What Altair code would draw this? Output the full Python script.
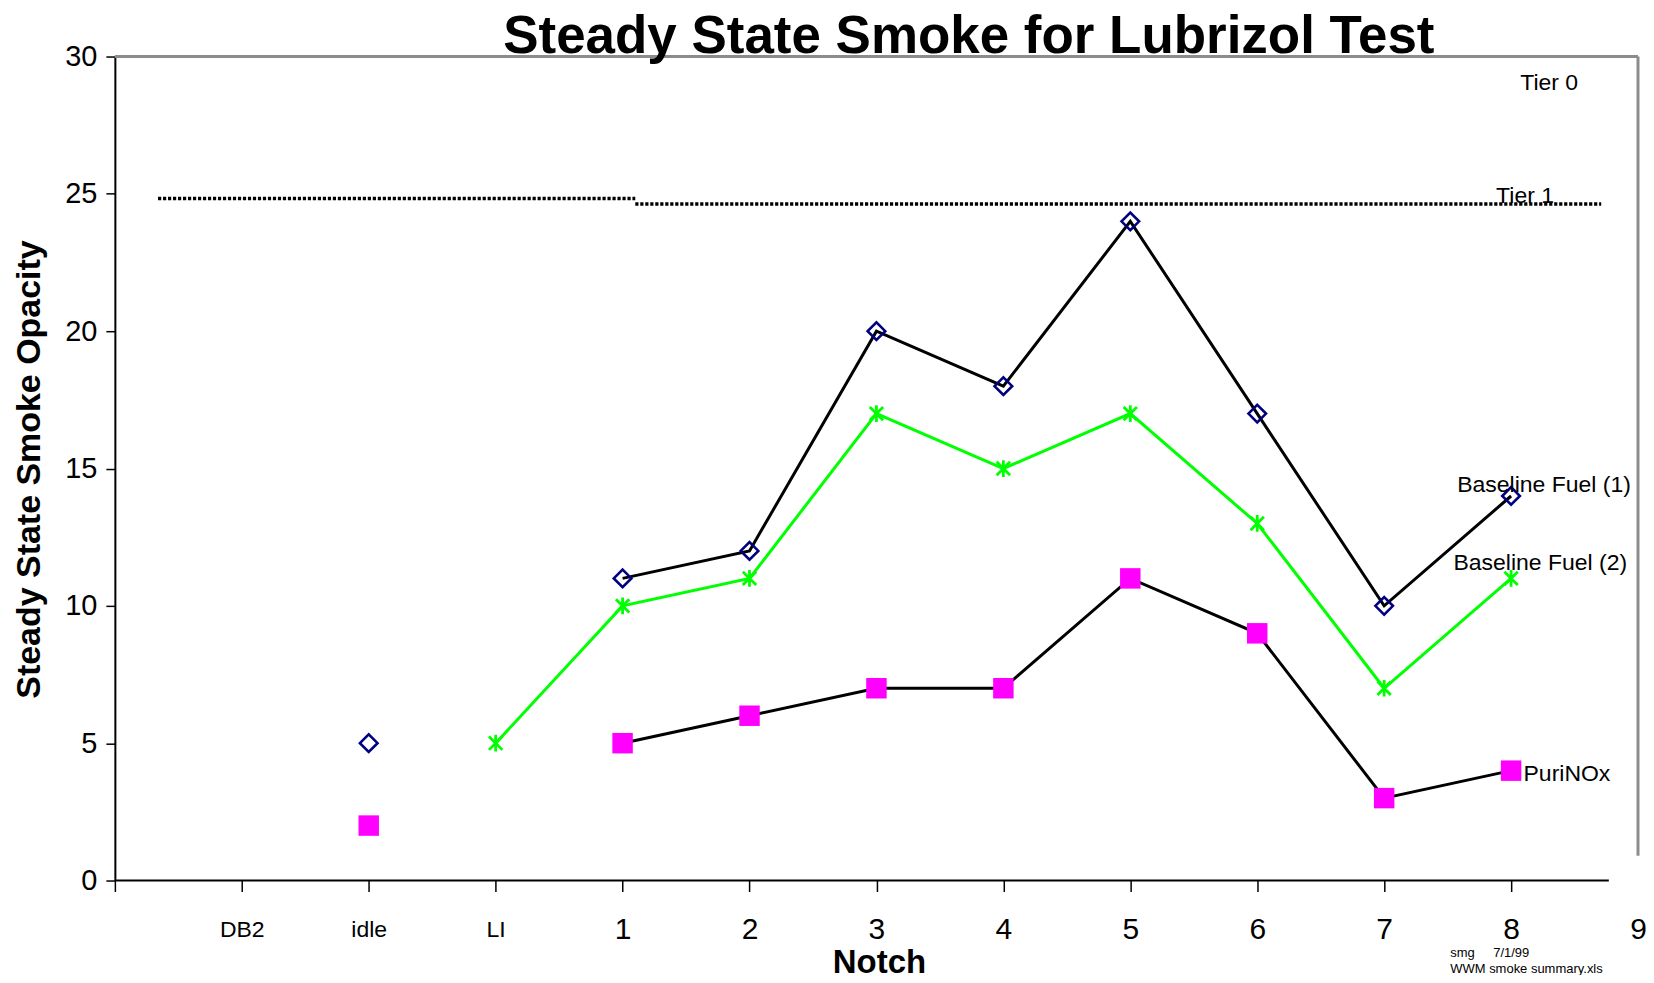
import json
import altair as alt
import pandas as pd

# ---- data ----
notch_labels = ["DB2", "idle", "LI", "1", "2", "3", "4", "5", "6", "7", "8", "9"]

fuel1_notch = ["idle", "1", "2", "3", "4", "5", "6", "7", "8"]
fuel1_vals = [5, 11, 12, 20, 18, 24, 17, 10, 14]

fuel2_notch = ["LI", "1", "2", "3", "4", "5", "6", "7", "8"]
fuel2_vals = [5, 10, 11, 17, 15, 17, 13, 7, 11]

puri_notch = ["idle", "1", "2", "3", "4", "5", "6", "7", "8"]
puri_vals = [2, 5, 6, 7, 7, 11, 9, 3, 4]

series_names = ["Baseline Fuel (1)", "Baseline Fuel (2)", "PuriNOx"]
line_start = {"Baseline Fuel (1)": "1", "Baseline Fuel (2)": "LI", "PuriNOx": "1"}

# Tier 1 limit (drawn as two dotted segments)
tier_x0 = [0.34, 4.10]
tier_x1 = [4.10, 11.71]
tier_y = [24.83, 24.63]

# annotation labels
ann_text = ["Tier 0", "Tier 1", "Baseline Fuel (1)", "Baseline Fuel (2)", "PuriNOx"]
ann_x = [11.30, 11.11, 11.26, 11.23, 11.44]
ann_y = [29.04, 24.94, 14.39, 11.55, 3.88]

# ---- build tables ----
def pos(n):
    return notch_labels.index(n) + 1

rows = []
for name, notches, vals in [
    (series_names[0], fuel1_notch, fuel1_vals),
    (series_names[1], fuel2_notch, fuel2_vals),
    (series_names[2], puri_notch, puri_vals),
]:
    for n, v in zip(notches, vals):
        rows.append({
            "series": name,
            "notch": n,
            "pos": pos(n),
            "value": v,
            "connected": pos(n) >= pos(line_start[name]),
        })
df = pd.DataFrame(rows)

tier_df = pd.DataFrame({"pos": tier_x0, "pos2": tier_x1, "value": tier_y})
ann_df = pd.DataFrame({"text": ann_text, "pos": ann_x, "value": ann_y})
frame_top = pd.DataFrame({"pos": [0], "pos2": [12], "value": [30]})
frame_right = pd.DataFrame({"pos": [12], "value": [0.9], "value2": [30]})
xaxis_line = pd.DataFrame({"pos": [0], "pos2": [11.77], "value": [0]})

FONT = "Liberation Sans"
xs = alt.Scale(domain=[0, 12], nice=False, zero=False)
ys = alt.Scale(domain=[0, 30], nice=False, zero=True)

label_expr = "datum.value >= 1 ? " + json.dumps(notch_labels) + "[datum.value - 1] : ''"

x_axis = alt.Axis(
    values=list(range(0, 13)),
    labelExpr=label_expr,
    labelFontSize={"condition": {"test": "datum.value <= 3", "value": 23}, "value": 30},
    tickColor={"condition": {"test": "datum.value == 12", "value": "transparent"}, "value": "black"},
    tickSize=11,
    tickWidth=1.5,
    labelPadding=38,
    labelBaseline="middle",
    labelAlign="center",
    labelColor="black",
    labelFont=FONT,
    labelFlush=False,
    labelOverlap=False,
    domain=False,
    grid=False,
    title="Notch",
    titleFont=FONT,
    titleFontSize=33,
    titleFontWeight="bold",
    titleColor="black",
    titleX=765,
    titleY=92,
    titleAlign="center",
    titleBaseline="alphabetic",
)

y_axis = alt.Axis(
    values=[0, 5, 10, 15, 20, 25, 30],
    tickSize=9,
    tickWidth=1.5,
    tickColor="black",
    labelPadding=9,
    labelFontSize=29,
    labelFont=FONT,
    labelColor="black",
    labelFlush=False,
    domain=True,
    domainColor="black",
    domainWidth=2,
    grid=False,
    title="Steady State Smoke Opacity",
    titleFont=FONT,
    titleFontSize=34,
    titleFontWeight="bold",
    titleColor="black",
    titleAngle=270,
    titleX=-85,
    titleY=413,
    titleAlign="center",
    titleBaseline="middle",
)

X = alt.X("pos:Q", scale=xs, axis=x_axis)
Y = alt.Y("value:Q", scale=ys, axis=y_axis)

color_scale = alt.Scale(domain=series_names, range=["black", "#00FF00", "black"])

# frame / axis line
top_border = alt.Chart(frame_top).mark_rule(color="#8c8c8c", strokeWidth=3).encode(
    x=X, x2="pos2:Q", y=Y,
)
right_border = alt.Chart(frame_right).mark_rule(color="#8c8c8c", strokeWidth=3).encode(
    x=X, y=Y, y2="value2:Q",
)
bottom_line = alt.Chart(xaxis_line).mark_rule(color="black", strokeWidth=2.2).encode(
    x=X, x2="pos2:Q", y=Y,
)

tier = alt.Chart(tier_df).mark_rule(color="black", strokeWidth=3.5, strokeDash=[3.2, 1.8]).encode(
    x=X, x2="pos2:Q", y=Y,
)

lines = alt.Chart(df).transform_filter("datum.connected").mark_line(strokeWidth=3).encode(
    x=X, y=Y,
    color=alt.Color("series:N", scale=color_scale, legend=None),
    detail="series:N",
    order="pos:Q",
)

diamonds = alt.Chart(df).transform_filter(
    alt.datum.series == series_names[0]
).mark_point(shape="diamond", size=310, filled=False, color="#000080", strokeWidth=2.6, opacity=1).encode(
    x=X, y=Y,
)

asterisk_path = "M0,-1L0,1M-0.8,-0.8L0.8,0.8M-0.8,0.8L0.8,-0.8"
stars = alt.Chart(df).transform_filter(
    alt.datum.series == series_names[1]
).mark_point(shape=asterisk_path, size=280, filled=False, color="#00FF00", strokeWidth=2.8, opacity=1).encode(
    x=X, y=Y,
)

squares = alt.Chart(df).transform_filter(
    alt.datum.series == series_names[2]
).mark_point(shape="square", size=420, filled=True, color="#FF00FF", opacity=1, strokeWidth=0).encode(
    x=X, y=Y,
)

ann = alt.Chart(ann_df).mark_text(
    font=FONT, fontSize=23, color="black", align="center", baseline="middle"
).encode(
    x=X, y=Y, text="text:N",
)

title_df = pd.DataFrame({"t": ["Steady State Smoke for Lubrizol Test"]})
title = alt.Chart(title_df).mark_text(
    font=FONT, fontSize=53, fontWeight="bold", color="black", align="center", baseline="alphabetic"
).encode(x=alt.value(855), y=alt.value(-4), text="t:N")

foot_df = pd.DataFrame({"t": ["smg", "7/1/99", "WWM smoke summary.xls"],
                        "px": [1337, 1380, 1337], "py": [898, 898, 914]})
foot = alt.Chart(foot_df).mark_text(
    font=FONT, fontSize=13, color="black", align="left", baseline="middle"
).encode(
    x=alt.X("px:Q", scale=None, axis=None),
    y=alt.Y("py:Q", scale=None, axis=None),
    text="t:N",
)

chart = alt.layer(
    top_border, right_border, bottom_line, tier, lines, diamonds, stars, squares, ann, title, foot
).properties(
    width=1525,
    height=825,
    padding={"left": 107, "top": 48, "right": 8, "bottom": 94},
    autosize=alt.AutoSizeParams(type="none"),
    background="white",
).configure_view(strokeWidth=0)

chart.save("out.html", embed_options={"renderer": "svg", "actions": False})
